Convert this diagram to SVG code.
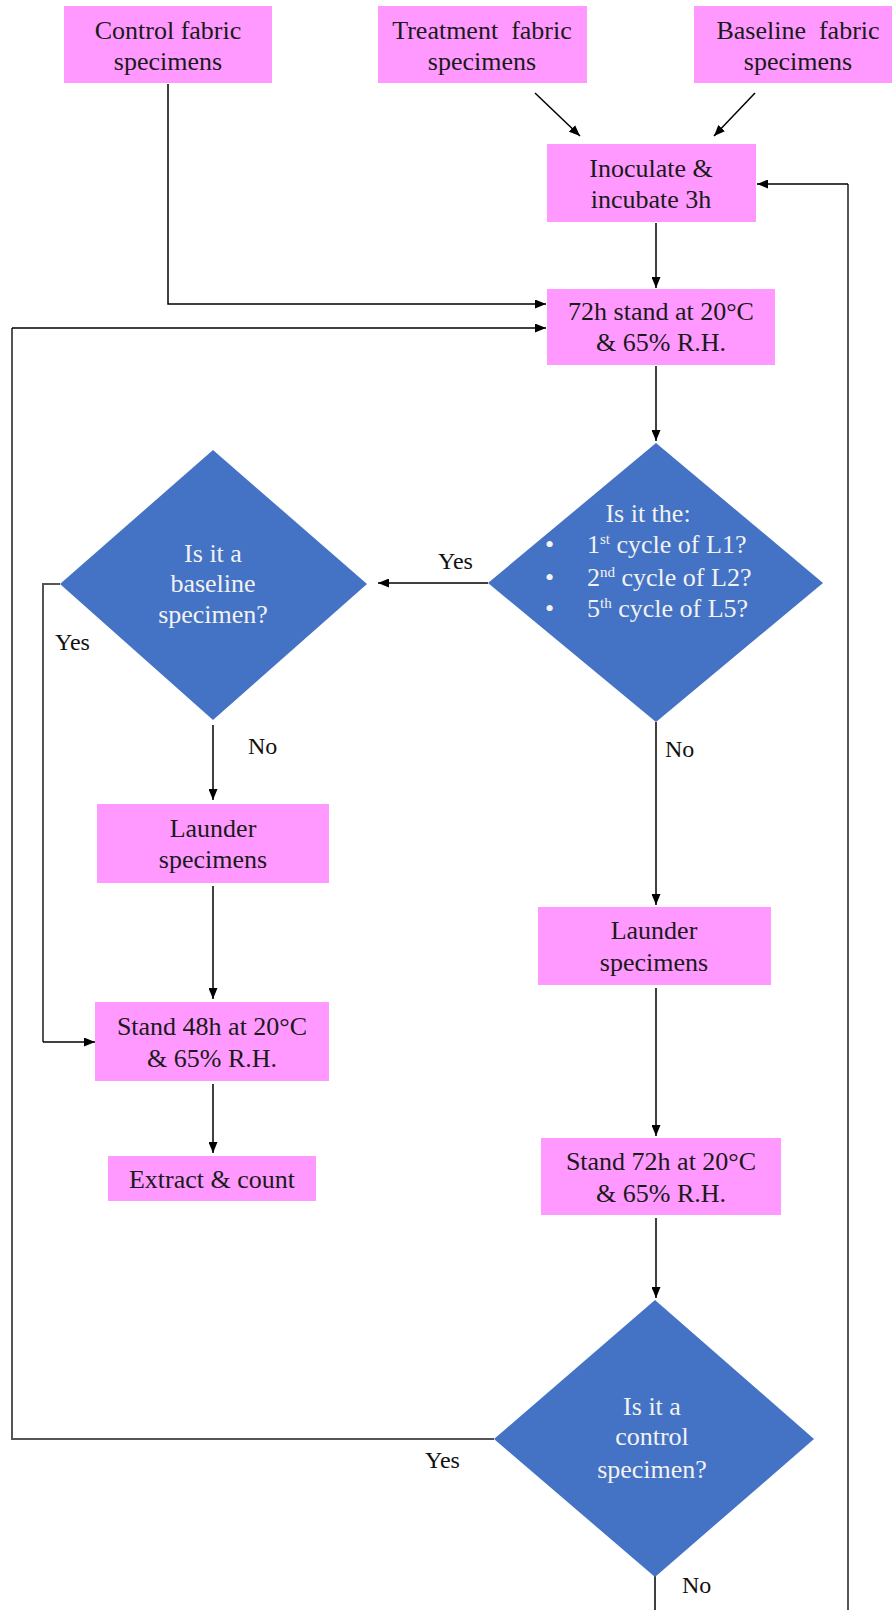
<svg xmlns="http://www.w3.org/2000/svg" width="892" height="1610" viewBox="0 0 892 1610">
<defs>
<marker id="ah" markerWidth="11" markerHeight="9" refX="11" refY="4.5" orient="auto" markerUnits="userSpaceOnUse">
<path d="M0,0 L11,4.5 L0,9 Z" fill="#000"/>
</marker>
<style>
.box{fill:#FF99FF;}
.dia{fill:#4472C4;}
.bt{font-family:"Liberation Serif","Times New Roman",serif;font-size:26px;fill:#1a1a1a;text-anchor:middle;white-space:pre;}
.dt{font-family:"Liberation Serif","Times New Roman",serif;font-size:26px;fill:#F2F2F2;text-anchor:middle;}
.dl{font-family:"Liberation Serif","Times New Roman",serif;font-size:26px;fill:#F2F2F2;}
.lbl{font-family:"Liberation Serif","Times New Roman",serif;font-size:24px;fill:#111;}
.ln{fill:none;stroke:#000;stroke-width:1.5;}
.lg{fill:none;stroke:#555;stroke-width:2;}
</style>
</defs>
<rect width="892" height="1610" fill="#fff"/>

<g id="connectors">
<line class="ln" x1="535" y1="93" x2="580" y2="136" marker-end="url(#ah)"/>
<line class="ln" x1="755" y1="93" x2="714" y2="136" marker-end="url(#ah)"/>
<line class="ln" x1="656" y1="223" x2="656" y2="288" marker-end="url(#ah)"/>
<polyline class="ln" points="168,84 168,304 546,304" marker-end="url(#ah)"/>
<polyline class="lg" points="494,1439 12,1439 12,328"/>
<line class="ln" x1="12" y1="328" x2="546" y2="328" marker-end="url(#ah)"/>
<polyline class="lg" points="848,1610 848,184"/>
<line class="ln" x1="848" y1="184" x2="757" y2="184" marker-end="url(#ah)"/>
<line class="ln" x1="656" y1="366" x2="656" y2="441" marker-end="url(#ah)"/>
<line class="ln" x1="488" y1="583" x2="378" y2="583" marker-end="url(#ah)"/>
<polyline class="lg" points="60,584 43,584 43,1042"/>
<line class="ln" x1="43" y1="1042" x2="95" y2="1042" marker-end="url(#ah)"/>
<line class="ln" x1="213" y1="725" x2="213" y2="800" marker-end="url(#ah)"/>
<line class="ln" x1="213" y1="886" x2="213" y2="999" marker-end="url(#ah)"/>
<line class="ln" x1="213" y1="1084" x2="213" y2="1153" marker-end="url(#ah)"/>
<line class="ln" x1="656" y1="722" x2="656" y2="905" marker-end="url(#ah)"/>
<line class="ln" x1="656" y1="988" x2="656" y2="1136" marker-end="url(#ah)"/>
<line class="ln" x1="656" y1="1218" x2="656" y2="1298" marker-end="url(#ah)"/>
<line class="ln" x1="655" y1="1575" x2="655" y2="1610"/>
<text class="lbl" x="438" y="569">Yes</text>
<text class="lbl" x="55" y="650">Yes</text>
<text class="lbl" x="248" y="754">No</text>
<text class="lbl" x="665" y="757">No</text>
<text class="lbl" x="425" y="1468">Yes</text>
<text class="lbl" x="682" y="1593">No</text>
</g>

<g id="control">
<rect class="box" x="64" y="6" width="208" height="77"/>
<text class="bt" x="168" y="39">Control fabric</text>
<text class="bt" x="168" y="70">specimens</text>
</g>
<g id="treatment">
<rect class="box" x="378" y="6" width="209" height="77"/>
<text class="bt" x="482" y="39">Treatment  fabric</text>
<text class="bt" x="482" y="70">specimens</text>
</g>
<g id="baseline">
<rect class="box" x="694" y="6" width="198" height="77"/>
<text class="bt" x="798" y="39">Baseline  fabric</text>
<text class="bt" x="798" y="70">specimens</text>
</g>
<g id="inoculate">
<rect class="box" x="547" y="144" width="209" height="78"/>
<text class="bt" x="651" y="177">Inoculate &amp;</text>
<text class="bt" x="651" y="208">incubate 3h</text>
</g>
<g id="stand72a">
<rect class="box" x="547" y="289" width="228" height="76"/>
<text class="bt" x="661" y="320">72h stand at 20°C</text>
<text class="bt" x="661" y="351">&amp; 65% R.H.</text>
</g>
<g id="cycle">
<polygon class="dia" points="656,443 823,583 656,722 488,583"/>
<text class="dt" x="648" y="522">Is it the:</text>
<text class="dl" x="545" y="553">•</text>
<text class="dl" x="587" y="553">1<tspan dy="-9" font-size="15">st</tspan><tspan dy="9"> cycle of L1?</tspan></text>
<text class="dl" x="545" y="586">•</text>
<text class="dl" x="587" y="586">2<tspan dy="-9" font-size="15">nd</tspan><tspan dy="9"> cycle of L2?</tspan></text>
<text class="dl" x="545" y="617">•</text>
<text class="dl" x="587" y="617">5<tspan dy="-9" font-size="15">th</tspan><tspan dy="9"> cycle of L5?</tspan></text>
</g>
<g id="isbaseline">
<polygon class="dia" points="213,450 367,584 213,720 60,584"/>
<text class="dt" x="213" y="562">Is it a</text>
<text class="dt" x="213" y="592">baseline</text>
<text class="dt" x="213" y="623">specimen?</text>
</g>
<g id="launderL">
<rect class="box" x="97" y="804" width="232" height="79"/>
<text class="bt" x="213" y="837">Launder</text>
<text class="bt" x="213" y="868">specimens</text>
</g>
<g id="stand48">
<rect class="box" x="95" y="1002" width="234" height="79"/>
<text class="bt" x="212" y="1035">Stand 48h at 20°C</text>
<text class="bt" x="212" y="1067">&amp; 65% R.H.</text>
</g>
<g id="extract">
<rect class="box" x="108" y="1156" width="208" height="45"/>
<text class="bt" x="212" y="1188">Extract &amp; count</text>
</g>
<g id="launderR">
<rect class="box" x="538" y="907" width="233" height="78"/>
<text class="bt" x="654" y="939">Launder</text>
<text class="bt" x="654" y="971">specimens</text>
</g>
<g id="stand72b">
<rect class="box" x="541" y="1138" width="240" height="77"/>
<text class="bt" x="661" y="1170">Stand 72h at 20°C</text>
<text class="bt" x="661" y="1202">&amp; 65% R.H.</text>
</g>
<g id="iscontrol">
<polygon class="dia" points="655,1300 814,1439 655,1577 494,1439"/>
<text class="dt" x="652" y="1415">Is it a</text>
<text class="dt" x="652" y="1445">control</text>
<text class="dt" x="652" y="1478">specimen?</text>
</g>
</svg>
